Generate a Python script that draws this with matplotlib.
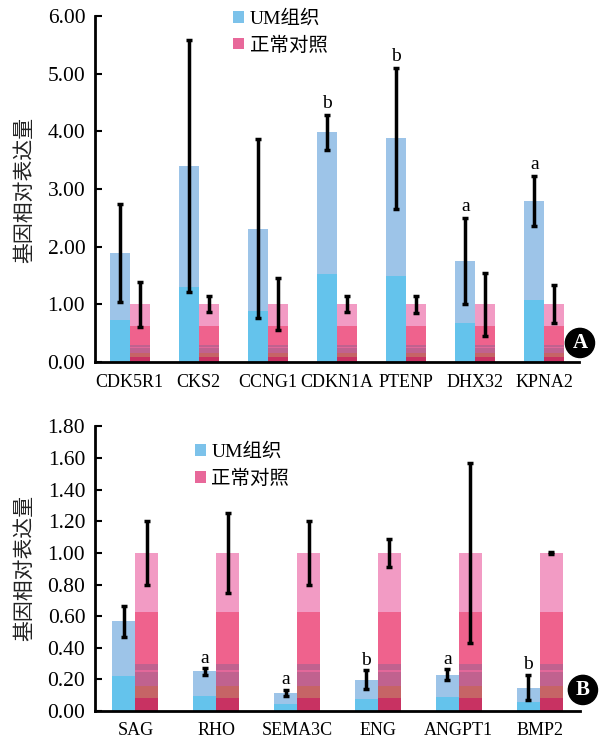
import numpy as np
import matplotlib
matplotlib.use('Agg')
import matplotlib.pyplot as plt
from matplotlib.patches import Patch

plt.rcParams['font.family'] = ['Liberation Serif', 'Noto Sans CJK SC']

# panel A data
genes_a = ['CDK5R1', 'CKS2', 'CCNG1', 'CDKN1A', 'PTENP', 'DHX32', 'KPNA2']
um_a = [1.89, 3.40, 2.31, 3.98, 3.88, 1.75, 2.79]
um_err_a = [0.85, 2.19, 1.55, 0.31, 1.22, 0.75, 0.43]
ctl_a = [1.0, 1.0, 1.0, 1.0, 1.0, 1.0, 1.0]
ctl_err_a = [0.39, 0.14, 0.45, 0.14, 0.15, 0.55, 0.33]
marks_a = ['', '', '', 'b', 'b', 'a', 'a']

# panel B data
genes_b = ['SAG', 'RHO', 'SEMA3C', 'ENG', 'ANGPT1', 'BMP2']
um_b = [0.567, 0.25, 0.115, 0.198, 0.23, 0.148]
um_err_b = [0.10, 0.02, 0.018, 0.06, 0.034, 0.08]
ctl_b = [1.0, 1.0, 1.0, 1.0, 1.0, 1.0]
ctl_err_b = [0.20, 0.255, 0.20, 0.09, 0.567, 0.008]
marks_b = ['', 'a', 'a', 'b', 'a', 'b']

blue_light = '#9dc4e8'
blue_dark = '#64c3ec'
pink_light = '#f29bc4'
# colour bands inside the control bars (fractions of the bar height)
pink_bands = [(0.0, 0.08, '#c83262'), (0.08, 0.155, '#c66466'),
              (0.155, 0.245, '#c0628f'), (0.245, 0.26, '#e2689a'),
              (0.26, 0.295, '#c0628f'), (0.295, 0.625, '#ef628d')]


def draw_panel(ax, genes, um, um_err, ctl, ctl_err, marks, w, ymax, yticks, fmt_pad, xpad):
    x = np.arange(len(genes))
    um = np.array(um)
    ctl = np.array(ctl)
    xb = x - w / 2
    xp = x + w / 2
    ax.bar(xb, um, w, color=blue_light, zorder=2)
    ax.bar(xb, um * 0.385, w, color=blue_dark, zorder=2)
    ax.bar(xp, ctl, w, color=pink_light, zorder=2)
    for lo, hi, c in pink_bands:
        ax.bar(xp, ctl * (hi - lo), w, bottom=ctl * lo, color=c, zorder=2)
    ax.errorbar(xb, um, yerr=um_err, fmt='none', ecolor='black', elinewidth=2.5,
                capsize=2.5, capthick=2.5, zorder=3)
    ax.errorbar(xp, ctl, yerr=ctl_err, fmt='none', ecolor='black', elinewidth=2.5,
                capsize=2.5, capthick=2.5, zorder=3)
    for i, m in enumerate(marks):
        if m:
            ax.text(xb[i], um[i] + um_err[i] + fmt_pad, m, ha='center', va='bottom',
                    fontsize=14)
    ax.set_xlim(-0.5, len(genes) - 0.5)
    ax.set_ylim(0, ymax)
    ax.set_yticks(yticks)
    ax.set_yticklabels(['%.2f' % t for t in yticks], fontsize=15.5)
    ax.set_xticks(x)
    ax.set_xticklabels(genes, fontsize=13)
    ax.tick_params(axis='x', length=0, pad=xpad)
    ax.tick_params(axis='y', direction='in', length=5, width=1.5, pad=7)
    for s in ['top', 'right']:
        ax.spines[s].set_visible(False)
    for s in ['left', 'bottom']:
        ax.spines[s].set_linewidth(2)
    ax.patch.set_alpha(0)


fig = plt.figure(figsize=(6.05, 7.38), dpi=100)

ax1 = fig.add_axes([0.157, 0.5095, 0.80, 0.4688])
draw_panel(ax1, genes_a, um_a, um_err_a, ctl_a, ctl_err_a, marks_a, 0.29,
           6.0, np.arange(0, 6.01, 1.0), 0.05, 9)

ax2 = fig.add_axes([0.157, 0.0366, 0.8017, 0.3855])
draw_panel(ax2, genes_b, um_b, um_err_b, ctl_b, ctl_err_b, marks_b, 0.285,
           1.8, np.arange(0, 1.81, 0.2), 0.01, 8)

handles = [Patch(facecolor='#7cc2ea', edgecolor='none'),
           Patch(facecolor='#e8689a', edgecolor='none')]
labels = ['UM组织', '正常对照']
leg_font = dict(family=['Liberation Serif', 'Noto Sans CJK SC'], size=14)
ax1.legend(handles, labels, loc='upper left', bbox_to_anchor=(0.27, 1.04),
           frameon=False, prop=leg_font, handlelength=0.55, handleheight=0.55,
           handletextpad=0.3, labelspacing=0.45, borderaxespad=0)
ax2.legend(handles, labels, loc='upper left', bbox_to_anchor=(0.19, 0.968),
           frameon=False, prop=leg_font, handlelength=0.55, handleheight=0.55,
           handletextpad=0.3, labelspacing=0.45, borderaxespad=0)

fig.text(0.042, 0.742, '基因相对表达量', rotation=90, ha='center', va='center',
         fontsize=15, color='#222222')
fig.text(0.042, 0.23, '基因相对表达量', rotation=90, ha='center', va='center',
         fontsize=15, color='#222222')

ax1.text(1.002, 0.055, 'A', transform=ax1.transAxes, ha='center', va='center',
         color='white', fontsize=15, fontweight='bold', clip_on=False,
         bbox=dict(boxstyle='circle,pad=0.22', fc='black', ec='black'))
ax2.text(1.006, 0.074, 'B', transform=ax2.transAxes, ha='center', va='center',
         color='white', fontsize=15, fontweight='bold', clip_on=False,
         bbox=dict(boxstyle='circle,pad=0.22', fc='black', ec='black'))

fig.savefig('out.png', dpi=100)
